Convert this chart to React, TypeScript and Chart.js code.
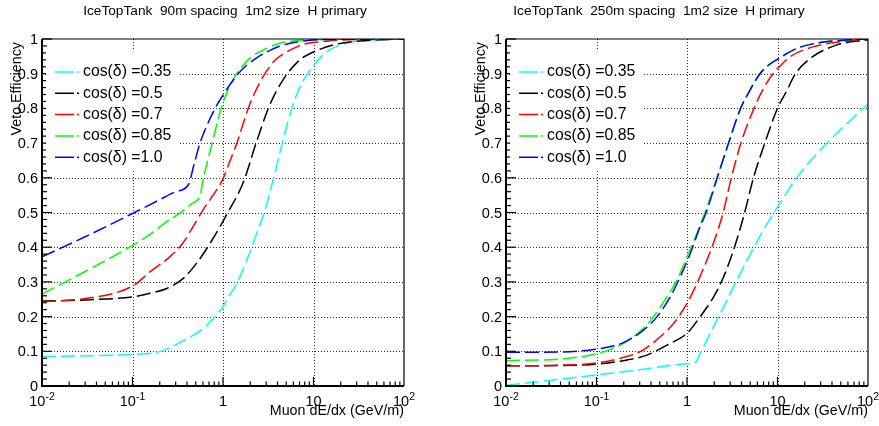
import React, { useEffect, useRef } from 'react';
import { Chart, registerables } from 'chart.js';

Chart.register(...registerables);

// ---------- data ----------
const legendLabels = ['cos(δ) =0.35', 'cos(δ) =0.5', 'cos(δ) =0.7', 'cos(δ) =0.85', 'cos(δ) =1.0'];
const seriesColors = ['#00ffff', '#000000', '#ff0000', '#00ff00', '#0000ff'];

const leftTitle = 'IceTopTank  90m spacing  1m2 size  H primary';
const rightTitle = 'IceTopTank  250m spacing  1m2 size  H primary';
const xAxisTitle = 'Muon dE/dx (GeV/m)';
const yAxisTitle = 'Veto Efficiency';

const yTickValues = [0, 0.1, 0.2, 0.3, 0.4, 0.5, 0.6, 0.7, 0.8, 0.9, 1];
const yTickLabels = ['0', '0.1', '0.2', '0.3', '0.4', '0.5', '0.6', '0.7', '0.8', '0.9', '1'];
const xTickValues = [0.01, 0.1, 1, 10, 100];
const xTickBases = ['10', '10', '1', '10', '10'];
const xTickExponents = ['-2', '-1', '', '', '2'];

// left panel (90m)
const l035X = [0.01, 0.03, 0.1, 0.2, 0.38, 0.6, 0.85, 1.0, 1.1, 1.42, 1.83, 2.36, 2.91, 3.63, 4.52, 5.75, 6.76, 8.6, 14, 27.5, 50, 100];
const l035Y = [0.085, 0.087, 0.091, 0.099, 0.133, 0.165, 0.205, 0.229, 0.248, 0.296, 0.363, 0.44, 0.507, 0.6, 0.7, 0.8, 0.85, 0.9, 0.963, 0.992, 0.998, 1.0];
const l05X = [0.01, 0.03, 0.1, 0.156, 0.239, 0.364, 0.512, 0.718, 0.927, 1.13, 1.54, 1.75, 2.32, 3.17, 3.89, 5.13, 7.08, 9.33, 16.6, 31.6, 100];
const l05Y = [0.245, 0.248, 0.257, 0.267, 0.281, 0.31, 0.354, 0.411, 0.459, 0.5, 0.565, 0.6, 0.7, 0.8, 0.85, 0.9, 0.94, 0.959, 0.983, 0.994, 1.0];
const l07X = [0.01, 0.03, 0.1, 0.156, 0.26, 0.361, 0.467, 0.6, 0.85, 1.0, 1.2, 1.42, 1.9, 2.29, 2.91, 3.8, 5.5, 7.9, 11.8, 25, 100];
const l07Y = [0.243, 0.252, 0.288, 0.329, 0.373, 0.412, 0.459, 0.507, 0.565, 0.597, 0.65, 0.699, 0.8, 0.85, 0.9, 0.94, 0.968, 0.985, 0.992, 0.998, 1.0];
const l085X = [0.01, 0.03, 0.1, 0.156, 0.25, 0.335, 0.45, 0.557, 0.61, 0.759, 0.955, 1.175, 1.42, 1.99, 2.77, 4.27, 10, 100];
const l085Y = [0.265, 0.33, 0.405, 0.437, 0.477, 0.498, 0.525, 0.548, 0.6, 0.7, 0.8, 0.862, 0.9, 0.945, 0.968, 0.988, 0.998, 1.0];
const l10X = [0.01, 0.03, 0.1, 0.2, 0.3, 0.414, 0.48, 0.557, 0.65, 0.817, 1.0, 1.19, 1.47, 1.84, 2.4, 3.06, 4.0, 5.5, 9.87, 20, 100];
const l10Y = [0.372, 0.43, 0.497, 0.537, 0.56, 0.58, 0.64, 0.7, 0.745, 0.8, 0.838, 0.868, 0.9, 0.925, 0.947, 0.963, 0.977, 0.988, 0.997, 0.999, 1.0];

// right panel (250m)
const r035X = [0.01, 0.03, 0.1, 0.3, 1.0, 1.24, 1.4, 1.81, 2.33, 3.01, 3.88, 5.0, 7.0, 9.7, 16.5, 29.7, 49.4, 100];
const r035Y = [0.002, 0.016, 0.032, 0.047, 0.064, 0.068, 0.094, 0.152, 0.209, 0.267, 0.325, 0.38, 0.45, 0.51, 0.602, 0.68, 0.738, 0.812];
const r05X = [0.01, 0.04, 0.0985, 0.217, 0.361, 0.601, 1.0, 1.4, 1.97, 2.54, 3.27, 4.22, 5.43, 7.24, 10, 12.6, 15.8, 24.5, 45.4, 100];
const r05Y = [0.058, 0.059, 0.063, 0.075, 0.089, 0.118, 0.152, 0.2, 0.257, 0.315, 0.392, 0.488, 0.6, 0.7, 0.8, 0.85, 0.9, 0.949, 0.983, 0.998];
const r07X = [0.01, 0.04, 0.098, 0.217, 0.305, 0.507, 0.711, 1.0, 1.29, 1.66, 2.14, 2.51, 3.09, 3.94, 5.5, 6.76, 8.91, 10.96, 13.8, 25.1, 49.4, 100];
const r07Y = [0.058, 0.06, 0.066, 0.085, 0.099, 0.142, 0.18, 0.238, 0.296, 0.363, 0.44, 0.5, 0.6, 0.7, 0.8, 0.85, 0.9, 0.925, 0.949, 0.978, 0.992, 0.999];
const r085X = [0.01, 0.04, 0.0966, 0.183, 0.305, 0.428, 0.601, 0.776, 1.0, 1.29, 1.63, 2.14, 2.88, 3.91, 4.9, 6.4, 8.0, 10.5, 16.4, 29.7, 60, 100];
const r085Y = [0.073, 0.078, 0.092, 0.118, 0.158, 0.2, 0.257, 0.305, 0.373, 0.44, 0.51, 0.6, 0.7, 0.8, 0.85, 0.9, 0.925, 0.945, 0.973, 0.99, 0.997, 1.0];
const r10X = [0.01, 0.04, 0.0966, 0.19, 0.331, 0.467, 0.653, 0.843, 1.087, 1.4, 1.63, 2.16, 2.88, 3.91, 4.9, 6.4, 8.0, 10.5, 16.4, 29.7, 60, 100];
const r10Y = [0.097, 0.098, 0.106, 0.123, 0.161, 0.2, 0.257, 0.315, 0.382, 0.46, 0.5, 0.6, 0.7, 0.8, 0.85, 0.9, 0.925, 0.945, 0.973, 0.99, 0.997, 1.0];

const leftXs = [l035X, l05X, l07X, l085X, l10X];
const leftYs = [l035Y, l05Y, l07Y, l085Y, l10Y];
const rightXs = [r035X, r05X, r07X, r085X, r10X];
const rightYs = [r035Y, r05Y, r07Y, r085Y, r10Y];

// ---------- styling ----------
const FONT = '"Liberation Sans", Arial, Helvetica, sans-serif';

function makeDatasets(xs: number[][], ys: number[][]) {
  return xs.map((xArr, i) => ({
    label: legendLabels[i],
    data: xArr.map((x, j) => ({ x, y: ys[i][j] })),
    borderColor: seriesColors[i],
    backgroundColor: seriesColors[i],
    borderWidth: 1.5,
    borderDash: [14, 5],
    pointRadius: 0,
    fill: false,
    cubicInterpolationMode: 'monotone' as const,
    order: xs.length - 1 - i,
  }));
}

function makeDecorPlugin(title: string, titleCenter: number) {
  return {
    id: 'rootDecor',
    beforeDraw(chart: any) {
      const ctx = chart.ctx;
      ctx.save();
      ctx.fillStyle = '#ffffff';
      ctx.fillRect(0, 0, chart.width, chart.height);
      ctx.restore();
    },
    beforeDatasetsDraw(chart: any) {
      const { ctx, chartArea: a, scales } = chart;
      ctx.save();
      ctx.strokeStyle = '#333333';
      ctx.lineWidth = 1;
      ctx.setLineDash([1, 2]);
      for (const v of xTickValues) {
        if (v <= 0.01 || v >= 100) continue;
        const px = Math.round(scales.x.getPixelForValue(v)) + 0.5;
        ctx.beginPath();
        ctx.moveTo(px, a.top);
        ctx.lineTo(px, a.bottom);
        ctx.stroke();
      }
      for (const v of yTickValues) {
        if (v <= 0 || v >= 1) continue;
        const py = Math.round(scales.y.getPixelForValue(v)) + 0.5;
        ctx.beginPath();
        ctx.moveTo(a.left, py);
        ctx.lineTo(a.right, py);
        ctx.stroke();
      }
      ctx.restore();
    },
    afterDatasetsDraw(chart: any) {
      const { ctx, chartArea: a, scales } = chart;
      const xs = scales.x;
      const ys = scales.y;
      ctx.save();
      ctx.setLineDash([]);
      ctx.strokeStyle = '#000';
      ctx.lineWidth = 1.2;
      ctx.beginPath();
      ctx.moveTo(a.left, a.top);
      ctx.lineTo(a.right, a.top);
      ctx.lineTo(a.right, a.bottom);
      ctx.stroke();
      ctx.lineWidth = 2;
      ctx.beginPath();
      ctx.moveTo(a.left, a.top);
      ctx.lineTo(a.left, a.bottom);
      ctx.lineTo(a.right, a.bottom);
      ctx.stroke();

      // y ticks
      ctx.lineWidth = 1.2;
      for (let k = 0; k <= 50; k++) {
        const v = k * 0.02;
        const py = ys.getPixelForValue(v);
        const len = k % 5 === 0 ? 10 : 5;
        ctx.beginPath();
        ctx.moveTo(a.left, py);
        ctx.lineTo(a.left + len, py);
        ctx.stroke();
      }
      // x ticks (log)
      for (let d = -2; d < 2; d++) {
        for (let m = 1; m <= 9; m++) {
          const v = m * Math.pow(10, d);
          const px = xs.getPixelForValue(v);
          const len = m === 1 ? 9 : 4.5;
          ctx.beginPath();
          ctx.moveTo(px, a.bottom);
          ctx.lineTo(px, a.bottom - len);
          ctx.stroke();
        }
      }

      // y labels
      ctx.fillStyle = '#000';
      ctx.font = `14.5px ${FONT}`;
      ctx.textAlign = 'right';
      ctx.textBaseline = 'middle';
      yTickValues.forEach((v, i) => {
        ctx.fillText(yTickLabels[i], a.left - 4, ys.getPixelForValue(v) + 1);
      });

      // x labels with exponents
      ctx.textAlign = 'left';
      ctx.textBaseline = 'alphabetic';
      xTickValues.forEach((v, i) => {
        const px = xs.getPixelForValue(v);
        const base = xTickBases[i];
        const exp = xTickExponents[i];
        ctx.font = `14.5px ${FONT}`;
        const wb = ctx.measureText(base).width;
        ctx.font = `10.5px ${FONT}`;
        const we = exp ? ctx.measureText(exp).width : 0;
        const x0 = px - (wb + we) / 2;
        ctx.font = `14.5px ${FONT}`;
        ctx.fillText(base, x0, a.bottom + 20);
        if (exp) {
          ctx.font = `10.5px ${FONT}`;
          ctx.fillText(exp, x0 + wb, a.bottom + 14);
        }
      });

      // x axis title
      ctx.font = `14.3px ${FONT}`;
      ctx.textAlign = 'right';
      ctx.textBaseline = 'alphabetic';
      ctx.fillText(xAxisTitle, a.right, a.bottom + 29);

      // y axis title
      ctx.save();
      ctx.translate(a.left - 21, a.top + 3);
      ctx.rotate(-Math.PI / 2);
      ctx.textAlign = 'right';
      ctx.textBaseline = 'alphabetic';
      ctx.fillText(yAxisTitle, 0, 0);
      ctx.restore();

      // title
      ctx.font = `13.7px ${FONT}`;
      ctx.textAlign = 'center';
      ctx.textBaseline = 'alphabetic';
      ctx.fillText(title, titleCenter, 15);

      // legend
      const boxL = a.left + 4;
      const boxR = a.left + 136;
      ctx.fillStyle = '#fff';
      ctx.fillRect(boxL, 50, boxR - boxL, 120);
      ctx.font = `15.8px ${FONT}`;
      ctx.textAlign = 'left';
      ctx.textBaseline = 'middle';
      legendLabels.forEach((lab, i) => {
        const y = 72 + i * 21.3;
        ctx.strokeStyle = seriesColors[i];
        ctx.lineWidth = 1.5;
        ctx.setLineDash([19, 3]);
        ctx.beginPath();
        ctx.moveTo(a.left + 13, y);
        ctx.lineTo(a.left + 37, y);
        ctx.stroke();
        ctx.setLineDash([]);
        ctx.fillStyle = '#000';
        ctx.fillText(lab, a.left + 41, y);
      });
      ctx.restore();
    },
  };
}

interface PanelProps {
  title: string;
  titleCenter: number;
  xs: number[][];
  ys: number[][];
  left: number;
  width: number;
  padding: { left: number; right: number; top: number; bottom: number };
}

function Panel({ title, titleCenter, xs, ys, left, width, padding }: PanelProps) {
  const ref = useRef<HTMLCanvasElement>(null);
  useEffect(() => {
    const canvas = ref.current;
    if (!canvas) return;
    const chart = new Chart(canvas, {
      type: 'line',
      data: { datasets: makeDatasets(xs, ys) as any },
      options: {
        responsive: false,
        animation: false,
        devicePixelRatio: 1,
        events: [],
        layout: { padding },
        plugins: {
          legend: { display: false },
          tooltip: { enabled: false },
          title: { display: false },
        },
        scales: {
          x: { type: 'logarithmic', min: 0.01, max: 100, display: false },
          y: { type: 'linear', min: 0, max: 1, display: false },
        },
      } as any,
      plugins: [makeDecorPlugin(title, titleCenter) as any],
    });
    return () => chart.destroy();
  }, []);
  return (
    <canvas
      ref={ref}
      width={width}
      height={426}
      style={{ position: 'absolute', left, top: 0, width, height: 426, display: 'block' }}
    />
  );
}

export default function App() {
  return (
    <div style={{ position: 'absolute', left: 0, top: 0, width: 879, height: 426, background: '#fff', overflow: 'hidden' }}>
      <Panel
        title={leftTitle}
        titleCenter={225}
        xs={leftXs}
        ys={leftYs}
        left={0}
        width={440}
        padding={{ left: 42, right: 36, top: 39, bottom: 40 }}
      />
      <Panel
        title={rightTitle}
        titleCenter={219}
        xs={rightXs}
        ys={rightYs}
        left={440}
        width={439}
        padding={{ left: 66, right: 11, top: 39, bottom: 40 }}
      />
    </div>
  );
}
